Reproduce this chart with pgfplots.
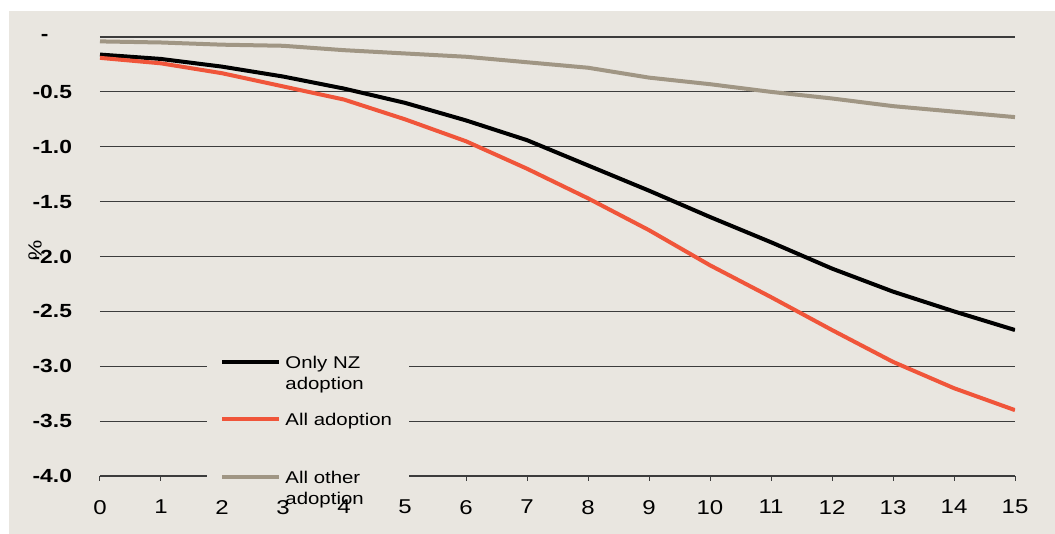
\documentclass[border=0pt]{standalone}
\usepackage{fontspec}
\setmainfont{Liberation Sans}[FakeStretch=1.2]
\usepackage{pgfplots}
\pgfplotsset{compat=1.18}

\definecolor{bgbeige}{RGB}{233,230,224}
\definecolor{alladopt}{RGB}{240,85,58}
\definecolor{otheradopt}{RGB}{160,150,132}
\definecolor{gridc}{RGB}{60,60,60}

% legend under the tick labels, like the original
\pgfplotsset{layers/chartlayers/.define layer set={axis background,axis grid,pre main,main,axis descriptions,axis ticks,axis lines,axis tick labels,axis foreground}{}}

\newcommand\entry[2]{\vtop{\hbox{\strut #1}\hbox{\strut #2}}}

\begin{document}
\begin{tikzpicture}
\fill[white] (-50pt,-29pt) rectangle (477.5pt,238pt);
\fill[bgbeige] (-45.5pt,-29pt) rectangle (477.5pt,232.5pt);
\begin{axis}[
 set layers=chartlayers,
 scale only axis, width=457.5pt, height=219.5pt,
 xmin=0, xmax=15, ymin=-4, ymax=0,
 /pgf/number format/assume math mode=true,
 xtick={0,...,15},
 ytick={-4,-3.5,-3,-2.5,-2,-1.5,-1,-0.5,0},
 yticklabels={-4.0,-3.5,-3.0,-2.5,-2.0,-1.5,-1.0,-0.5,{\makebox[15.5pt][l]{-}}},
 yticklabel style={font=\bfseries\fontsize{9.5}{11}\selectfont, anchor=east, xshift=-8pt},
 xticklabel style={font=\fontsize{10}{12}\selectfont, yshift=-6pt},
 ymajorgrids, grid style={gridc, line width=0.6pt},
 axis x line*=bottom, axis y line*=left,
 x axis line style={gridc, line width=0.6pt, -},
 y axis line style={draw=none},
 ytick style={draw=none},
 xtick style={gridc, line width=0.5pt},
 tick align=outside, major tick length=2.5pt,
 ylabel={\%},
 ylabel style={at={(rel axis cs:-0.071,0.515)}, anchor=center, font=\fontsize{9.5}{11}\selectfont},
 legend style={at={(rel axis cs:0.117,0.3035)}, anchor=north west, fill=bgbeige, draw=none,
   inner xsep=6.5pt, inner ysep=3pt, row sep=15.8pt, column sep=0pt,
   font=\fontsize{8.5}{10.7}\selectfont, cells={anchor=base west, inner sep=0pt}},
 legend image code/.code={\draw[#1] (0pt,3.3pt) -- (28.5pt,3.3pt);},
]
\addplot[black, line width=2pt] coordinates {
 (0,-0.16) (1,-0.20) (2,-0.27) (3,-0.36) (4,-0.47) (5,-0.60) (6,-0.76) (7,-0.94)
 (8,-1.17) (9,-1.40) (10,-1.64) (11,-1.87) (12,-2.11) (13,-2.32) (14,-2.50) (15,-2.67)
};
\addlegendentry{\entry{Only NZ}{adoption}}
\addplot[alladopt, line width=2pt] coordinates {
 (0,-0.19) (1,-0.24) (2,-0.33) (3,-0.45) (4,-0.57) (5,-0.75) (6,-0.95) (7,-1.20)
 (8,-1.47) (9,-1.76) (10,-2.08) (11,-2.37) (12,-2.67) (13,-2.96) (14,-3.20) (15,-3.40)
};
\addlegendentry{\entry{All adoption}{}}
\addplot[otheradopt, line width=2pt] coordinates {
 (0,-0.04) (1,-0.05) (2,-0.07) (3,-0.08) (4,-0.12) (5,-0.15) (6,-0.18) (7,-0.23)
 (8,-0.28) (9,-0.37) (10,-0.43) (11,-0.50) (12,-0.56) (13,-0.63) (14,-0.68) (15,-0.73)
};
\addlegendentry{\entry{All other}{adoption}}
\end{axis}
\pgfresetboundingbox
\useasboundingbox (-50pt,-29pt) rectangle (477.5pt,238pt);
\end{tikzpicture}
\end{document}
